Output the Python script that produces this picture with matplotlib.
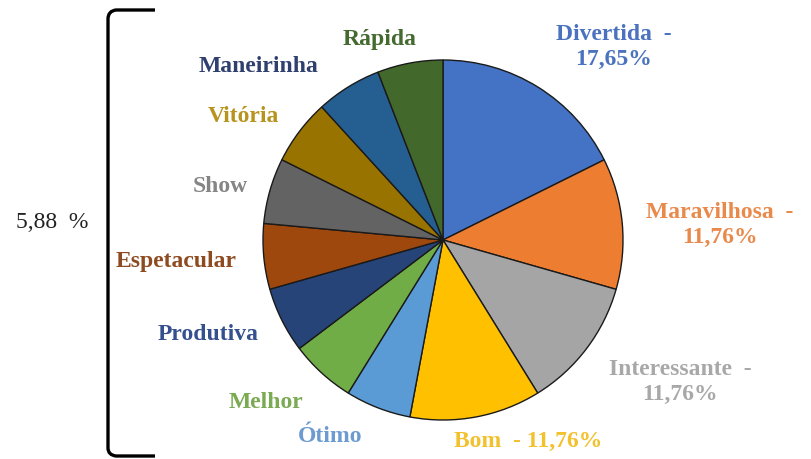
import matplotlib.pyplot as plt
from matplotlib.path import Path
from matplotlib.patches import PathPatch

# word frequencies (percent)
words = ["Divertida", "Maravilhosa", "Interessante", "Bom", "Ótimo", "Melhor",
         "Produtiva", "Espetacular", "Show", "Vitória", "Maneirinha", "Rápida"]
shares = [17.65, 11.76, 11.76, 11.76, 5.88, 5.88, 5.88, 5.88, 5.88, 5.88, 5.88, 5.88]
small_share = "5,88  %"

slice_colors = ["#4472C4", "#ED7D31", "#A5A5A5", "#FFC000", "#5B9BD5", "#70AD47",
                "#264478", "#9E480E", "#636363", "#997300", "#255E91", "#43682B"]
label_colors = ["#4A72BE", "#E98A4C", "#A8A8A8", "#F2C12E", "#6C9BD0", "#7AAA52",
                "#34508E", "#8E4A20", "#858585", "#B8931E", "#2F3F6E", "#456A30"]

# label anchors in pixel coordinates (x from left, y from top)
label_pos = [(614, 47), (720, 225), (680, 382), (528, 441), (330, 437), (266, 402),
             (208, 335), (176, 262), (220, 186), (243, 116), (259, 67), (380, 40)]
with_value = {"Divertida": "two", "Maravilhosa": "two", "Interessante": "two", "Bom": "one"}

W, H = 811, 459
plt.rcParams['font.family'] = ['Liberation Serif', 'DejaVu Serif']

fig = plt.figure(figsize=(W / 100, H / 100), dpi=100)
ax = fig.add_axes([0, 0, 1, 1])

ax.pie(shares, colors=slice_colors, startangle=90, counterclock=False,
       center=(443, H - 240), radius=180,
       wedgeprops=dict(edgecolor="#1a1a1a", linewidth=1.0))

ax.set_xlim(0, W)
ax.set_ylim(0, H)
ax.set_aspect("equal")
ax.axis("off")

for word, share, color, (px, py) in zip(words, shares, label_colors, label_pos):
    value = f"{share:.2f}".replace(".", ",") + "%"
    mode = with_value.get(word)
    if mode == "two":
        text = f"{word}  -\n{value}"
    elif mode == "one":
        text = f"{word}  - {value}"
    else:
        text = word
    ax.text(px, H - py, text, color=color, fontsize=17, fontweight="bold",
            ha="center", va="center", linespacing=1.25)

# bracket grouping the small slices
verts = [(155, H - 10), (116, H - 10), (108, H - 11), (108, H - 19),
         (108, H - 448), (108, H - 455), (116, H - 456), (155, H - 456)]
codes = [Path.MOVETO, Path.LINETO, Path.CURVE3, Path.CURVE3,
         Path.LINETO, Path.CURVE3, Path.CURVE3, Path.LINETO]
ax.add_patch(PathPatch(Path(verts, codes), fill=False, edgecolor="black", linewidth=2.4))
ax.text(52, H - 222, small_share, color="#222222", fontsize=17,
        ha="center", va="center")

fig.savefig("out.png", dpi=100)
